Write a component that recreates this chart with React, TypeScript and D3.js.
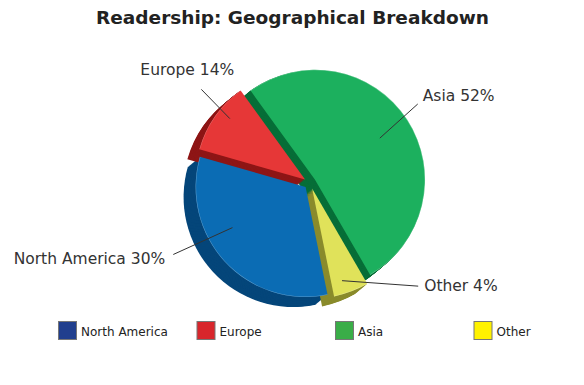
import React from "react";
import * as d3 from "d3";

const title = "Readership: Geographical Breakdown";
const categories = ["North America", "Europe", "Asia", "Other"];
const values = [30, 14, 52, 4];
const faceColors = ["#0b6cb4", "#e63737", "#1cb05e", "#e0e25a"];
const sideColors = ["#05467a", "#8e1616", "#076e38", "#8a8b2c"];
const legendColors = ["#213f8e", "#d8262c", "#3aad48", "#fff200"];
// clockwise drawing order of the slices (indices into categories)
const pieOrder = [2, 3, 0, 1];
// label guide layout per category: inner angle/radius, outer angle/radius (relative to slice tip)
const labelLayout = [
  { ia: 241, ir: 0.76, oa: 243, or: 1.35, dx: -8, dy: 10, anchor: "end" },
  { ia: 309, ir: 0.88, oa: 311, or: 1.25, dx: -14, dy: -14, anchor: "middle" },
  { ia: 57.3, ir: 0.7, oa: 53.6, or: 1.16, dx: 5, dy: -3, anchor: "start" },
  { ia: 162, ir: 0.88, oa: 132.6, or: 1.31, dx: 6, dy: 5, anchor: "start" },
];

const W = 584;
const H = 385;
const cx = 310;
const cy = 183;
const R = 110;
const explode = 6;
const depthX = -12;
const depthY = 10;
const steps = 16;
const startDeg = -37.65;
// perspective of the 3D view: angles are stretched toward the viewer's side
const perspAmp = 16.87;
const perspDir = 148.35;
const FONT = "Verdana, 'DejaVu Sans', sans-serif";

const rad = (d: number) => (d * Math.PI) / 180;
const deg = (r: number) => (r * 180) / Math.PI;
const persp = (a: number) => rad(deg(a) + perspAmp * Math.sin(a - rad(perspDir)));

export default function App() {
  const start = rad(startDeg);
  const pie = d3
    .pie<number>()
    .sort(null)
    .value((i) => values[i])
    .startAngle(start)
    .endAngle(start + 2 * Math.PI);
  const arcs = pie(pieOrder).map((a) => ({
    ...a,
    startAngle: persp(a.startAngle),
    endAngle: persp(a.endAngle),
  }));
  const arcGen = d3.arc<any>().innerRadius(0).outerRadius(R);
  const rimGen = d3.arc<any>().innerRadius(R - 0.5).outerRadius(R);

  const slices = arcs.map((a) => {
    const mid = (a.startAngle + a.endAngle) / 2;
    const vx = cx + explode * Math.sin(mid);
    const vy = cy - explode * Math.cos(mid);
    return { a, idx: a.data as number, vx, vy, d: arcGen(a) as string, rim: rimGen(a) as string };
  });

  const sideOrder = [2, 0, 3, 1];
  const sideSlices = sideOrder.map((ci) => slices.find((s) => s.idx === ci)!);
  const stepsArr = d3.range(steps, 0, -1);

  const polar = (vx: number, vy: number, dg: number, rf: number) => {
    const t = rad(dg);
    return [vx + rf * R * Math.sin(t), vy - rf * R * Math.cos(t)];
  };

  const legendX = d3.scaleLinear().domain([0, 1]).range([58, 196.5]);

  return (
    <svg
      width={W}
      height={H}
      style={{ position: "absolute", left: 0, top: 0, background: "#fff" }}
      fontFamily={FONT}
    >
      <rect width={W} height={H} fill="#fff" />
      <text x={292.5} y={24} textAnchor="middle" fontSize={18.5} fontWeight="bold" fill="#222">
        {title}
      </text>
      {sideSlices.map((s) => (
        <g key={"side" + s.idx}>
          {stepsArr.map((k) => (
            <path
              key={k}
              d={s.d}
              fill={sideColors[s.idx]}
              transform={`translate(${s.vx + (depthX * k) / steps},${s.vy + (depthY * k) / steps})`}
            />
          ))}
        </g>
      ))}
      {slices.map((s) => (
        <g key={"face" + s.idx} transform={`translate(${s.vx},${s.vy})`}>
          <path d={s.d} fill={faceColors[s.idx]} />
          <path d={s.rim} fill="#ffffff" fillOpacity={0.35} />
        </g>
      ))}
      {slices.map((s) => {
        const L = labelLayout[s.idx];
        const [x1, y1] = polar(s.vx, s.vy, L.ia, L.ir);
        const [x2, y2] = polar(s.vx, s.vy, L.oa, L.or);
        return (
          <g key={"lab" + s.idx}>
            <line x1={x1} y1={y1} x2={x2} y2={y2} stroke="#333" strokeWidth={1} />
            <text
              x={x2 + L.dx}
              y={y2 + L.dy}
              textAnchor={L.anchor as any}
              fontSize={15.5}
              fill="#333"
            >
              {`${categories[s.idx]} ${values[s.idx]}%`}
            </text>
          </g>
        );
      })}
      {categories.map((c, i) => (
        <g key={"leg" + c} transform={`translate(${legendX(i)},321)`}>
          <rect x={0.5} y={0.5} width={18} height={18} fill={legendColors[i]} stroke="#777" strokeWidth={1} />
          <text x={23} y={15} fontSize={12} fill="#222">
            {c}
          </text>
        </g>
      ))}
    </svg>
  );
}
